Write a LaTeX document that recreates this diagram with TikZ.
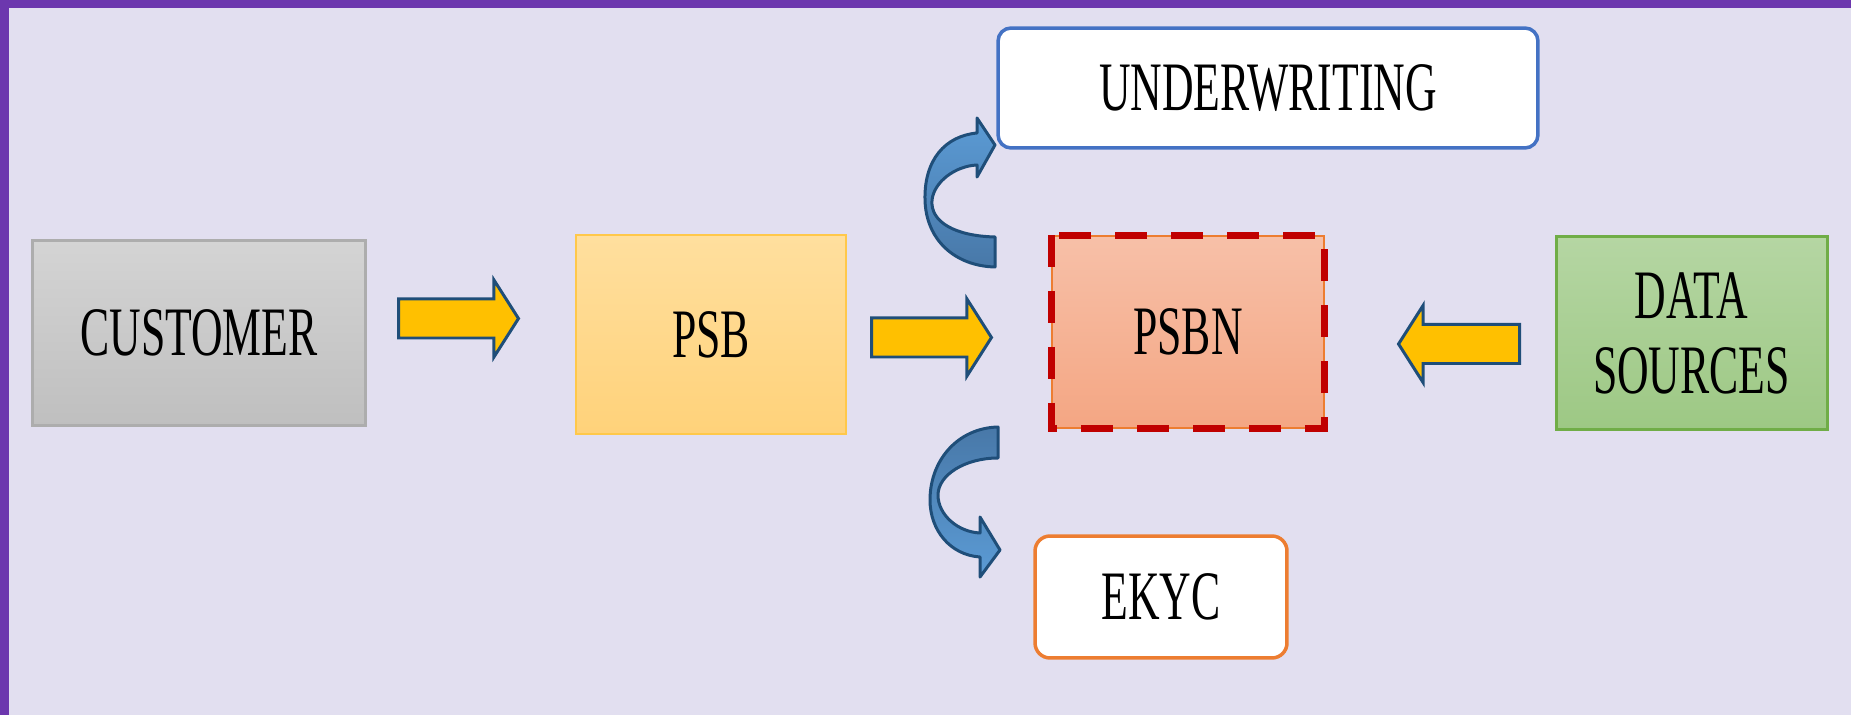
\documentclass[tikz,border=0pt]{standalone}
\usepackage{fontspec}
\setmainfont{Liberation Serif}[FakeStretch=0.63]
\usepackage{xcolor}
\usepackage{tikz}
\usetikzlibrary{shapes,arrows,positioning}

\definecolor{pagebg}{HTML}{E2DFF0}
\definecolor{frameviolet}{HTML}{6C37AE}
\definecolor{arrowfill}{HTML}{FFC000}
\definecolor{arrowedge}{HTML}{1F4E79}
\definecolor{curvetop}{HTML}{5B9BD5}
\definecolor{curvebot}{HTML}{4878A8}
\definecolor{greytop}{HTML}{D4D4D4}
\definecolor{greybot}{HTML}{BFBFBF}
\definecolor{greyedge}{HTML}{ADADAD}
\definecolor{yellowtop}{HTML}{FFDF9E}
\definecolor{yellowbot}{HTML}{FFD27A}
\definecolor{yellowedge}{HTML}{FFC84A}
\definecolor{salmontop}{HTML}{F7C0A8}
\definecolor{salmonbot}{HTML}{F4A683}
\definecolor{orangeedge}{HTML}{ED7D31}
\definecolor{greentop}{HTML}{B5D6A3}
\definecolor{greenbot}{HTML}{9DC884}
\definecolor{greenedge}{HTML}{70AD47}
\definecolor{blueedge}{HTML}{4472C4}
\definecolor{dashred}{HTML}{C00000}

\begin{document}
\begin{tikzpicture}[x=0.02cm, y=-0.02cm, font=\fontsize{39.5}{42.7}\selectfont]
    % Define styles
    \tikzstyle{greybox} = [rectangle, minimum width=6.68cm, minimum height=3.72cm, text centered, draw=greyedge, line width=0.06cm, top color=greytop, bottom color=greybot]
    \tikzstyle{yellowbox} = [rectangle, minimum width=5.4cm, minimum height=3.98cm, text centered, draw=yellowedge, line width=0.05cm, top color=yellowtop, bottom color=yellowbot]
    \tikzstyle{salmonbox} = [rectangle, minimum width=5.44cm, minimum height=3.84cm, text centered, draw=orangeedge, line width=0.04cm, top color=salmontop, bottom color=salmonbot]
    \tikzstyle{greenbox} = [rectangle, minimum width=5.42cm, minimum height=3.88cm, text centered, align=center, draw=greenedge, line width=0.06cm, top color=greentop, bottom color=greenbot]
    \tikzstyle{whitebox} = [rectangle, rounded corners=0.26cm, text centered, fill=white, line width=0.07cm]
    \tikzstyle{blockarrow} = [single arrow, draw=arrowedge, fill=arrowfill, line width=0.06cm, minimum width=1.54cm, single arrow head extend=0.37cm, single arrow tip angle=115, inner xsep=0, inner ysep=0.35cm, anchor=tail]
    \tikzstyle{curvearrow} = [draw=arrowedge, line width=0.06cm, line join=round]

    % Background
    \useasboundingbox (0,0) rectangle (1851,715);
    \fill[pagebg] (0,0) rectangle (1851,715);
    \fill[frameviolet] (0,0) rectangle (1851,8);
    \fill[frameviolet] (0,0) rectangle (9,715);

    % Nodes
    \node[greybox] (customer) at (199,333) {CUSTOMER};
    \node[yellowbox] (psb) at (711,334.5) {PSB};
    \node[salmonbox] (psbn) at (1188,332) {PSBN};
    \node[greenbox] (data_sources) at (1691.5,333) {DATA\\SOURCES};
    \node[whitebox, draw=blueedge, minimum width=10.8cm, minimum height=2.4cm] (underwriting) at (1268,88) {UNDERWRITING};
    \node[whitebox, draw=orangeedge, minimum width=5.04cm, minimum height=2.44cm, rounded corners=0.3cm] (ekyc) at (1161,597) {EKYC};
    \draw[dashred, line width=0.14cm, dash pattern=on 0.64cm off 0.48cm] (psbn.north west) rectangle (psbn.south east);

    % Connections
    \node[blockarrow, minimum height=2.4cm] (customer_psb) at (397,318.5) {};
    \node[blockarrow, minimum height=2.4cm] (psb_psbn) at (870,337.5) {};
    \node[blockarrow, minimum height=2.42cm, shape border rotate=180] (sources_psbn) at (1521,344) {};

    % curved arrow to underwriting
    \path[curvearrow, top color=curvetop, bottom color=curvebot]
        (995,267) -- (995,237)
        .. controls (955,236) and (930,222) .. (932,200)
        .. controls (934,182) and (955,166) .. (977,165)
        -- (977,177) -- (995,145) -- (977,118) -- (977,133)
        .. controls (945,136) and (924,160) .. (925,200)
        .. controls (926,240) and (955,266) .. (995,267) -- cycle;
    % curved arrow to ekyc
    \path[curvearrow, top color=curvebot, bottom color=curvetop]
        (998,427) -- (998,458)
        .. controls (965,458) and (938,475) .. (938,495)
        .. controls (938,515) and (958,532) .. (980,533)
        -- (980,517) -- (1000,550) -- (980,577) -- (980,557)
        .. controls (950,555) and (930,530) .. (930,500)
        .. controls (930,460) and (958,428) .. (998,427) -- cycle;
\end{tikzpicture}
\end{document}
